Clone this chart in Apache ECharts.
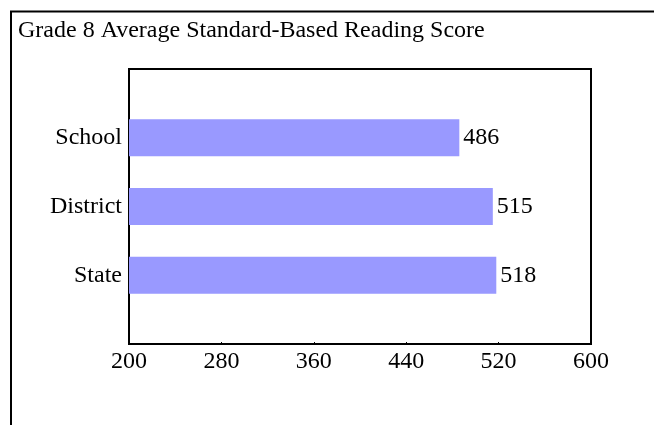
<!DOCTYPE html>
<html>
<head>
<meta charset="utf-8">
<script src="https://cdn.jsdelivr.net/npm/echarts@6/dist/echarts.min.js"></script>
<style>
html,body{margin:0;padding:0;background:#fff;}
#chart{width:654px;height:425px;}
</style>
</head>
<body>
<div id="chart"></div>
<script>
const titleText = 'Grade 8 Average Standard-Based Reading Score';
const categories = ['School', 'District', 'State'];
const scores = [486, 515, 518];
const xTicks = [200, 280, 360, 440, 520, 600];

const axisData = [''].concat(categories, [' ']);
const seriesData = ['-'].concat(scores, ['-']);
const FONT = 'Liberation Serif, Times New Roman, serif';

const chart = echarts.init(document.getElementById('chart'), null, {renderer: 'canvas'});
chart.setOption({
  animation: false,
  backgroundColor: '#ffffff',
  title: {
    text: titleText,
    left: 13,
    top: 14,
    textStyle: {fontFamily: FONT, fontSize: 24, fontWeight: 'normal', color: '#000'}
  },
  graphic: [{
    type: 'polyline',
    shape: {points: [[11, 425], [11, 11.5], [654, 11.5]]},
    style: {stroke: '#000', lineWidth: 2, fill: null}
  }],
  grid: {
    left: 129, right: 63, top: 69, bottom: 81,
    show: true, borderColor: '#000', borderWidth: 2, backgroundColor: 'transparent',
    containLabel: false
  },
  xAxis: {
    type: 'value',
    min: xTicks[0],
    max: xTicks[xTicks.length - 1],
    interval: xTicks[1] - xTicks[0],
    splitLine: {show: false},
    axisLine: {show: true, lineStyle: {color: '#000', width: 2}},
    axisTick: {show: true, inside: true, length: 2, lineStyle: {color: '#000'}},
    axisLabel: {fontFamily: FONT, fontSize: 24, color: '#000', margin: 6}
  },
  yAxis: {
    type: 'category',
    data: axisData,
    inverse: true,
    boundaryGap: false,
    axisLine: {show: true, lineStyle: {color: '#000', width: 2}},
    axisTick: {show: false},
    splitLine: {show: false},
    axisLabel: {fontFamily: FONT, fontSize: 24, color: '#000', margin: 7}
  },
  series: [{
    type: 'bar',
    data: seriesData,
    barWidth: 37,
    itemStyle: {color: '#9999ff'},
    label: {
      show: true, position: 'right', distance: 4,
      fontFamily: FONT, fontSize: 24, color: '#000'
    }
  }]
});
</script>
</body>
</html>
